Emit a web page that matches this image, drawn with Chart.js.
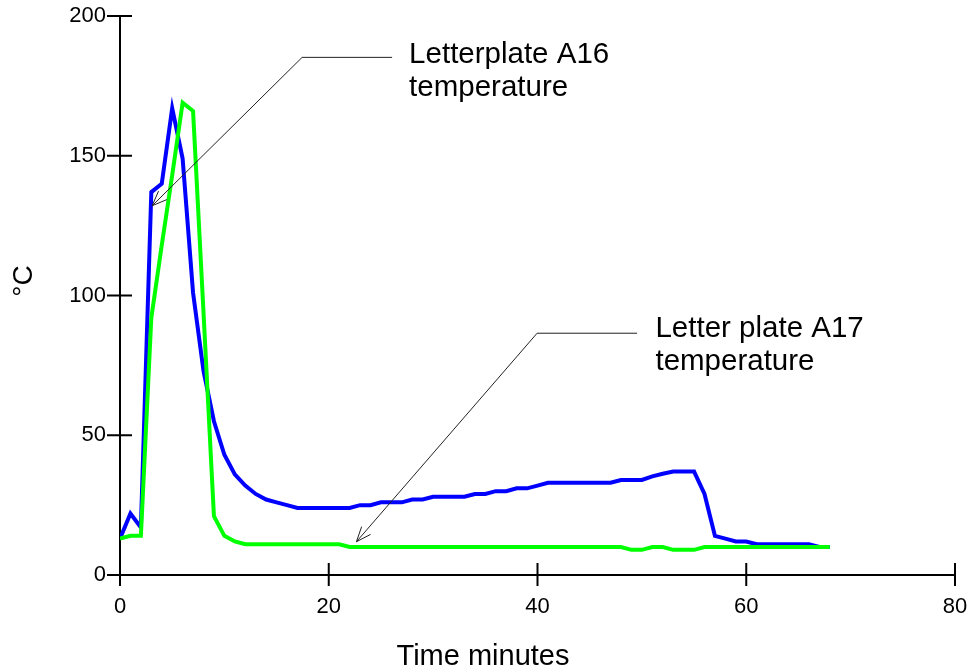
<!DOCTYPE html>
<html>
<head>
<meta charset="utf-8">
<title>Letter plate temperatures</title>
<script src="https://cdn.jsdelivr.net/npm/chart.js@4.4.1/dist/chart.umd.min.js"></script>
<style>
  html, body { margin: 0; padding: 0; background: #fff; }
  #wrap { width: 968px; height: 672px; }
</style>
</head>
<body>
<div id="wrap"><canvas id="chart" width="968" height="672"></canvas></div>
<script>
// time axis (minutes) and the two measured series
const minutes = [0, 1, 2, 3, 4, 5, 6, 7, 8, 9, 10, 11, 12, 13, 14, 15, 16, 17, 18, 19,
  20, 21, 22, 23, 24, 25, 26, 27, 28, 29, 30, 31, 32, 33, 34, 35, 36, 37, 38, 39,
  40, 41, 42, 43, 44, 45, 46, 47, 48, 49, 50, 51, 52, 53, 54, 55, 56, 57, 58, 59,
  60, 61, 62, 63, 64, 65, 66, 67, 68];

const a16Temp = [13, 22, 17, 137, 140, 167, 149, 101, 73, 55, 43, 36, 32, 29, 27, 26, 25, 24, 24, 24,
  24, 24, 24, 25, 25, 26, 26, 26, 27, 27, 28, 28, 28, 28, 29, 29, 30, 30, 31, 31,
  32, 33, 33, 33, 33, 33, 33, 33, 34, 34, 34, 35.3, 36.2, 37, 37, 37, 29, 14, 13, 12,
  12, 11, 11, 11, 11, 11, 11, 10, 10];

const a17Temp = [13, 14, 14, 92, 118, 143, 169, 166, 94, 21, 14, 12, 11, 11, 11, 11, 11, 11, 11, 11,
  11, 11, 10, 10, 10, 10, 10, 10, 10, 10, 10, 10, 10, 10, 10, 10, 10, 10, 10, 10,
  10, 10, 10, 10, 10, 10, 10, 10, 10, 9, 9, 10, 10, 9, 9, 9, 10, 10, 10, 10,
  10, 10, 10, 10, 10, 10, 10, 10, 10];

const xTickValues = [0, 20, 40, 60, 80];
const yTickValues = [0, 50, 100, 150, 200];

// callouts, anchored in data units (minutes, °C)
const callouts = [
  { lines: ['Letterplate A16', 'temperature'], text: [27.7, 183.2], end: [26.07, 185.2], elbow: [17.45, 185.2], tip: [3.08, 132.1] },
  { lines: ['Letter plate A17', 'temperature'], text: [51.3, 85.2], end: [49.54, 86.5], elbow: [39.96, 86.5], tip: [22.65, 11.9] }
];

const FONT = "'Liberation Sans', Arial, sans-serif";

const toPoints = (xs, ys) => xs.map((x, i) => ({ x, y: ys[i] }));

// stop scales from adding label overhang on top of layout padding
const noOverhang = s => {
  s.paddingTop = 0; s.paddingBottom = 0; s.paddingLeft = 0; s.paddingRight = 0;
};

/**
 * Tick marks that cross the axis line, plus axis titles and callouts
 */
const extras = {
  id: 'extras',
  afterDraw(chart) {
    const { ctx, chartArea, scales: { x, y } } = chart;
    ctx.save();

    // crossing ticks
    ctx.strokeStyle = '#000';
    ctx.lineWidth = 2;
    ctx.beginPath();
    x.ticks.forEach(t => {
      const px = x.getPixelForValue(t.value);
      ctx.moveTo(px, chartArea.bottom - 12);
      ctx.lineTo(px, chartArea.bottom + 11);
    });
    y.ticks.forEach(t => {
      const py = y.getPixelForValue(t.value);
      ctx.moveTo(chartArea.left - 13, py);
      ctx.lineTo(chartArea.left + 12, py);
    });
    ctx.stroke();

    // axis titles
    ctx.fillStyle = '#000';
    ctx.font = `29px ${FONT}`;
    ctx.textAlign = 'center';
    ctx.textBaseline = 'alphabetic';
    ctx.fillText('Time minutes', chartArea.left + 363, 665);

    ctx.save();
    ctx.translate(32, chartArea.top + 265);
    ctx.rotate(-Math.PI / 2);
    ctx.font = `28px ${FONT}`;
    ctx.fillText('°C', 0, 0);
    ctx.restore();

    // callouts
    ctx.lineWidth = 1;
    ctx.strokeStyle = '#222';
    callouts.forEach(c => {
      const px = p => [x.getPixelForValue(p[0]), y.getPixelForValue(p[1])];
      const [ex, ey] = px(c.end);
      const [bx, by] = px(c.elbow);
      const [tx, ty] = px(c.tip);

      ctx.beginPath();
      ctx.moveTo(ex, ey);
      ctx.lineTo(bx, by);
      ctx.lineTo(tx, ty);
      // open arrow head
      const ang = Math.atan2(by - ty, bx - tx);
      [-0.38, 0.38].forEach(d => {
        ctx.moveTo(tx, ty);
        ctx.lineTo(tx + 16 * Math.cos(ang + d), ty + 16 * Math.sin(ang + d));
      });
      ctx.stroke();

      const [lx, ly] = px(c.text);
      ctx.font = `29.5px ${FONT}`;
      ctx.textAlign = 'left';
      c.lines.forEach((line, i) => ctx.fillText(line, lx, ly + i * 33));
    });

    ctx.restore();
  }
};

new Chart(document.getElementById('chart'), {
  type: 'line',
  data: {
    datasets: [
      {
        label: 'Letterplate A16 temperature',
        data: toPoints(minutes, a16Temp),
        borderColor: '#0000ff',
        borderWidth: 4,
        pointRadius: 0,
        tension: 0,
        order: 1
      },
      {
        label: 'Letter plate A17 temperature',
        data: toPoints(minutes, a17Temp),
        borderColor: '#00ff00',
        borderWidth: 4,
        pointRadius: 0,
        tension: 0,
        order: 0
      }
    ]
  },
  options: {
    responsive: false,
    animation: false,
    layout: { padding: { top: 16, right: 13, left: 0, bottom: 0 } },
    plugins: {
      legend: { display: false },
      tooltip: { enabled: false }
    },
    scales: {
      x: {
        type: 'linear',
        min: 0,
        max: 80,
        afterBuildTicks: s => { s.ticks = xTickValues.map(value => ({ value })); },
        afterFit: s => { s.height = 97; noOverhang(s); },
        grid: { display: false },
        border: { display: true, color: '#000', width: 2 },
        ticks: {
          color: '#000',
          font: { family: FONT, size: 22 },
          padding: 11,
          maxRotation: 0
        }
      },
      y: {
        min: 0,
        max: 200,
        afterBuildTicks: s => { s.ticks = yTickValues.map(value => ({ value })); },
        afterFit: s => { s.width = 120; noOverhang(s); },
        grid: { display: false },
        border: { display: true, color: '#000', width: 2 },
        ticks: {
          color: '#000',
          font: { family: FONT, size: 22 },
          padding: 6
        }
      }
    }
  },
  plugins: [extras]
});
</script>
</body>
</html>
